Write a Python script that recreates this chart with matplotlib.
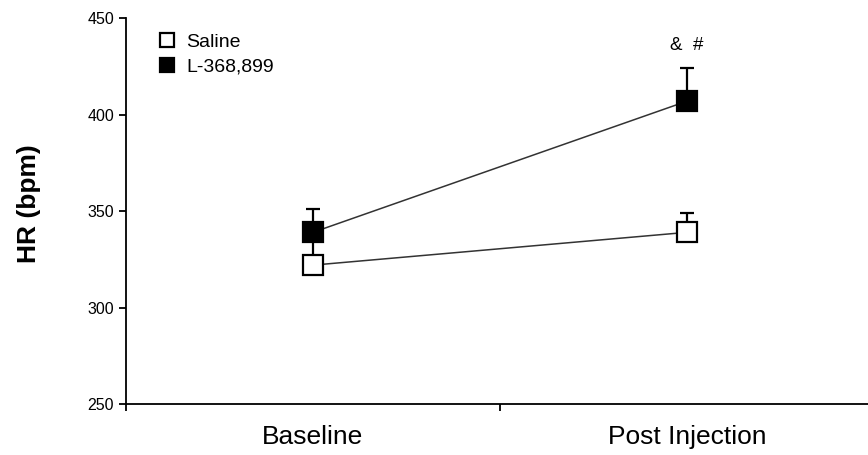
import matplotlib
matplotlib.use("Agg")
import matplotlib.pyplot as plt

plt.rcParams['font.family'] = ['Liberation Sans', 'DejaVu Sans']

categories = ["Baseline", "Post Injection"]
x_pos = [0.5, 1.5]
saline_mean = [322, 339]
saline_err = [13, 10]
drug_mean = [339, 407]
drug_err = [12, 17]
y_ticks = [250, 300, 350, 400, 450]

fig = plt.figure(figsize=(8.68, 4.55), dpi=100)
ax = fig.add_axes([0.145, 0.112, 0.862, 0.848])

ax.errorbar(x_pos, saline_mean, yerr=[[0, 0], saline_err], fmt='none',
            ecolor='black', elinewidth=1.6, capsize=5, capthick=1.6, zorder=2)
ax.errorbar(x_pos, drug_mean, yerr=[[0, 0], drug_err], fmt='none',
            ecolor='black', elinewidth=1.6, capsize=5, capthick=1.6, zorder=2)

ax.plot(x_pos, saline_mean, color='#333333', lw=1.1, zorder=1)
ax.plot(x_pos, drug_mean, color='#333333', lw=1.1, zorder=1)

ax.plot(x_pos, saline_mean, ls='none', marker='s', ms=14, mfc='white',
        mec='black', mew=1.6, zorder=3, label='Saline')
ax.plot(x_pos, drug_mean, ls='none', marker='s', ms=14, mfc='black',
        mec='black', mew=1.6, zorder=4, label='L-368,899')

ax.set_xlim(0, 2)
ax.set_ylim(250, 450)
ax.set_yticks(y_ticks)
ax.set_yticklabels([str(v) for v in y_ticks], fontsize=11.5)
ax.set_xticks([0, 1, 2])
ax.set_xticklabels([])
for xp, lab in zip(x_pos, categories):
    ax.text(xp, -0.055, lab, transform=ax.get_xaxis_transform(), ha='center',
            va='top', fontsize=19)

ax.spines['top'].set_visible(False)
ax.spines['right'].set_visible(False)
ax.spines['left'].set_linewidth(1.3)
ax.spines['bottom'].set_linewidth(1.3)
ax.tick_params(direction='out', length=5, width=1.3)

ax.set_ylabel('HR (bpm)', fontsize=19, fontweight='bold')
ax.yaxis.set_label_coords(-0.113, 0.52)

ax.text(1.5, 436, '&  #', ha='center', va='center', fontsize=13.5)

leg = ax.legend(loc='upper left', bbox_to_anchor=(0.027, 0.997), frameon=False,
                fontsize=14, handlelength=0.8, handletextpad=0.55,
                labelspacing=0.38, markerscale=0.75, borderaxespad=0.3)

fig.savefig('out.png', dpi=100)
